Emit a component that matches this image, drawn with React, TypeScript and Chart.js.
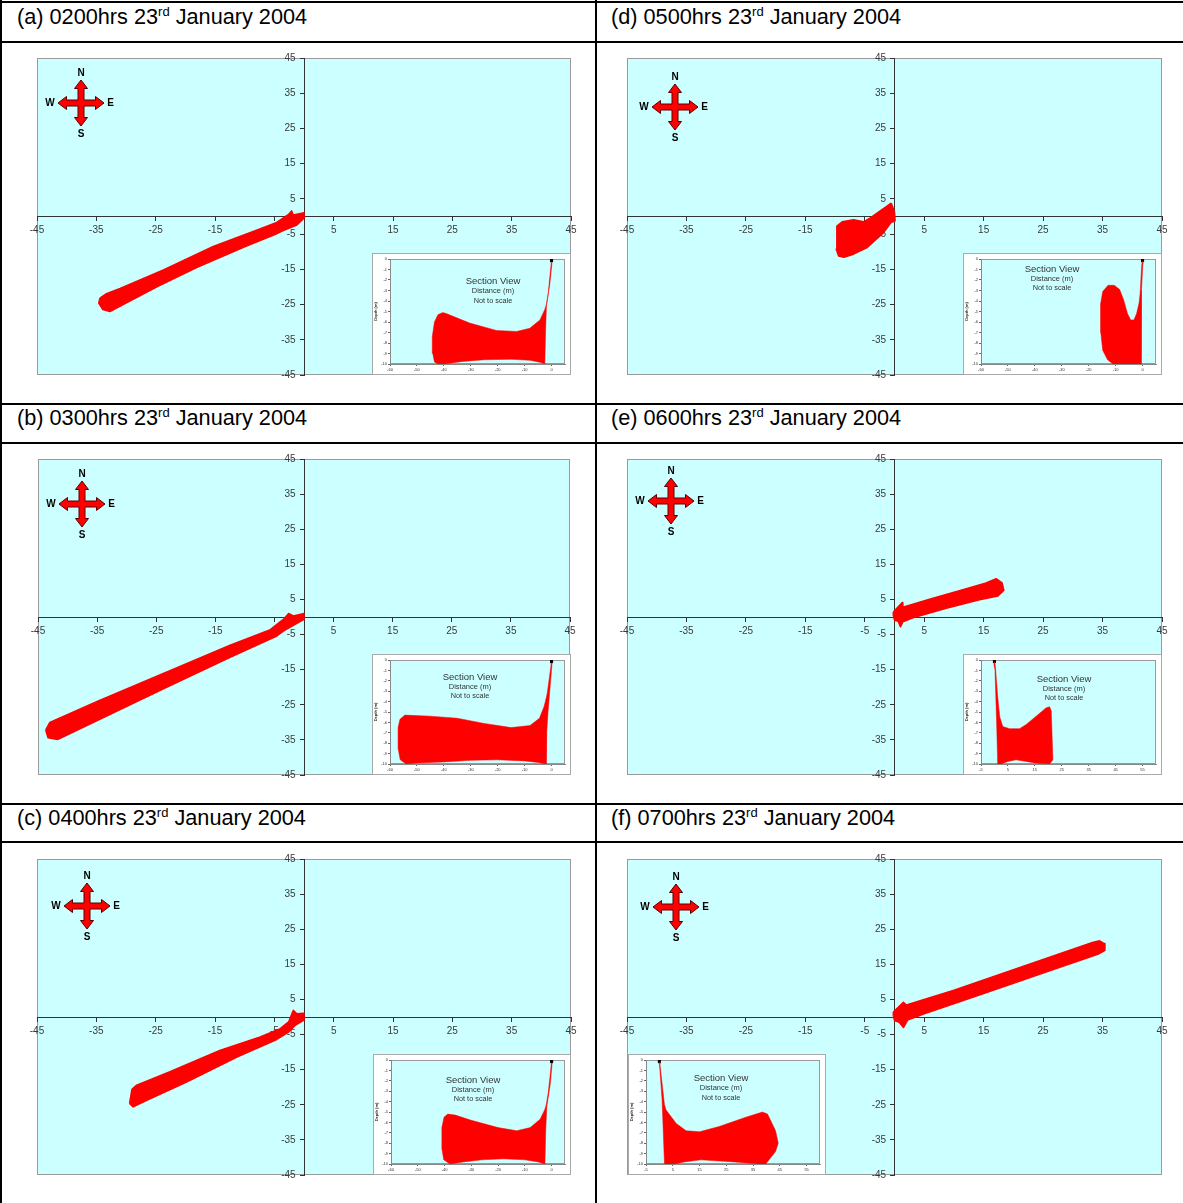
import React, { useEffect, useRef } from 'react';
import { Chart, registerables } from 'chart.js';

Chart.register(...registerables);

type Pt = [number, number];

// ---------------- data ----------------
const PANEL_LETTERS = ['a', 'b', 'c', 'd', 'e', 'f'];
const PANEL_TIMES = ['0200', '0300', '0400', '0500', '0600', '0700'];
const DATE_DAY = '23';
const DATE_SUFFIX = 'rd';
const DATE_REST = 'January 2004';

const PLAN_TICKS = [-45, -35, -25, -15, -5, 5, 15, 25, 35, 45];
const DEPTH_TICKS = [0, -1, -2, -3, -4, -5, -6, -7, -8, -9, -10];
const SECTION_TICKS_WEST = [-60, -50, -40, -30, -20, -10, 0];
const SECTION_TICKS_EAST = [-5, 5, 15, 25, 35, 45, 55];
const SECTION_RANGE_WEST: Pt = [-60, 5];
const SECTION_RANGE_EAST: Pt = [-5, 60];
const SOURCE_POINT: Pt = [0, -0.15];

// plan view plume outlines (easting m, northing m)
const PLAN_A: Pt[] = [[-34.4,-23.2],[-33.4,-22.0],[-31.0,-20.4],[-23.7,-15.2],[-15.3,-8.5],[-8.0,-3.9],[-4.6,-1.7],[-2.6,0.6],[-2.1,1.6],[-1.8,0.4],[0,1.1],[0,-0.5],[-1.2,-2.4],[-3.5,-4.0],[-4.9,-5.1],[-9.7,-8.4],[-18.1,-14.5],[-24.8,-20.0],[-31.6,-26.0],[-32.7,-27.0],[-33.9,-26.4],[-34.6,-24.6],[-34.4,-23.2]];
const PLAN_B: Pt[] = [[-43.7,-32.2],[-43.0,-30.0],[-34.9,-24.0],[-23.7,-16.0],[-12.5,-8.0],[-5.7,-3.6],[-3.5,-0.7],[-2.6,1.0],[-1.8,0.3],[0,1.0],[0,-0.7],[-1.8,-2.4],[-3.5,-4.0],[-4.6,-5.4],[-12.5,-11.5],[-23.7,-20.4],[-34.9,-29.4],[-41.7,-34.9],[-43.3,-34.4],[-43.7,-32.2]];
const PLAN_C: Pt[] = [[-29.4,-24.6],[-29.0,-20.6],[-28.2,-19.4],[-22.6,-15.6],[-14.2,-9.5],[-7.4,-5.7],[-4.0,-3.3],[-2.6,-1.4],[-1.8,1.9],[-1.2,0.9],[0,1.1],[0,-0.9],[-1.5,-2.4],[-2.6,-4.3],[-4.6,-6.4],[-11.3,-11.4],[-19.8,-18.5],[-26.5,-23.7],[-28.8,-25.6],[-29.4,-24.6]];
const PLAN_D: Pt[] = [[-0.56,3.8],[0,1.3],[0.1,-1.2],[-0.6,-1.7],[-1.8,-4.5],[-4.6,-8.8],[-6.9,-10.7],[-8.5,-11.6],[-9.4,-11.2],[-9.8,-9.3],[-9.7,-2.7],[-8.8,-1.5],[-6.9,-0.9],[-5.2,-1.5],[-4.0,-0.3],[-2.4,1.6],[-1.2,3.0],[-0.56,3.8]];
const PLAN_E: Pt[] = [[-0.2,1.4],[1.3,4.1],[1.4,2.8],[5.9,5.1],[11.5,7.8],[15.4,9.7],[17.1,10.9],[18.1,9.7],[18.4,7.6],[17.4,6.0],[14.3,4.9],[8.7,2.5],[3.1,-0.2],[1.4,-1.4],[1.0,-2.8],[0.6,-1.2],[0,-0.9],[-0.2,0.5],[-0.2,1.4]];
const PLAN_F: Pt[] = [[-0.2,1.4],[1.5,4.2],[2.0,3.4],[10,7.6],[20,13.5],[30,19.3],[33.3,21.2],[34.5,21.7],[35.3,20.9],[35.4,19.0],[34.3,17.9],[25,12.5],[15,6.7],[5,0.9],[2.2,-0.9],[1.5,-3.0],[0.8,-1.5],[0,-1.0],[-0.2,0.5],[-0.2,1.4]];

// section view plume outlines (distance m, depth m)
const SECTION_A: Pt[] = [[0.2,-0.3],[-0.6,-2.3],[-1.9,-4.5],[-2.2,-6.8],[-2.5,-10],[-4,-9.85],[-8,-9.65],[-15,-9.55],[-25,-9.6],[-33,-9.75],[-40,-10],[-42.2,-10],[-43.5,-9.8],[-44.1,-9.0],[-44.3,-7.4],[-43.5,-6.0],[-42.2,-5.3],[-40.4,-5.1],[-39.1,-5.2],[-30.4,-6.1],[-20.5,-6.8],[-13,-6.9],[-8.1,-6.6],[-4.3,-5.8],[-2.5,-4.8],[-1.9,-4.3],[-1.2,-3.2],[-0.6,-1.6],[-0.1,-0.3],[0.2,-0.3]];
const SECTION_B: Pt[] = [[0.2,-0.3],[-0.5,-2.5],[-1.3,-5],[-1.8,-7],[-2,-10],[-5,-9.85],[-10,-9.7],[-20,-9.6],[-30,-9.65],[-40,-9.8],[-50,-9.9],[-54,-10],[-56.2,-9.6],[-57,-8.5],[-57,-6.5],[-56.3,-5.7],[-54.5,-5.3],[-45,-5.4],[-35,-5.6],[-25,-6.1],[-15,-6.5],[-8,-6.3],[-4.5,-5.6],[-2.8,-4.5],[-2.3,-4.0],[-1.6,-3.2],[-0.7,-1.5],[-0.1,-0.3],[0.2,-0.3]];
const SECTION_C: Pt[] = [[0.2,-0.3],[-0.5,-2.3],[-1.8,-4.5],[-2.2,-6.8],[-2.5,-10],[-5,-9.8],[-10,-9.6],[-18,-9.5],[-26,-9.6],[-33,-9.8],[-38,-10],[-40.3,-9.6],[-41,-8.5],[-41,-6.5],[-40.2,-5.5],[-38.8,-5.2],[-36,-5.3],[-30,-5.8],[-20,-6.5],[-13,-6.8],[-8,-6.5],[-4.3,-5.7],[-2.6,-4.8],[-2,-4.3],[-1.3,-3.2],[-0.6,-1.6],[-0.1,-0.3],[0.2,-0.3]];
const SECTION_D: Pt[] = [[0,-0.2],[0.1,-0.5],[-0.4,-3.0],[-0.5,-10],[-5,-10],[-11,-10],[-13,-9.6],[-14.8,-8.7],[-15.5,-7],[-15.6,-4.3],[-14.8,-3.1],[-12.8,-2.5],[-10.5,-2.5],[-8.5,-2.9],[-7,-3.9],[-5.6,-5.2],[-4.4,-5.8],[-3.2,-5.8],[-2.2,-5.2],[-1.3,-4.2],[-0.9,-3.3],[-0.3,-0.5],[0,-0.2]];
const SECTION_E: Pt[] = [[0,-0.2],[0.3,-0.5],[1.2,-3.5],[1.6,-4.6],[2,-5.5],[3.1,-6.4],[5.6,-6.6],[9.3,-6.6],[11.8,-6.2],[15.5,-5.4],[19.2,-4.6],[20.5,-4.5],[21.1,-4.9],[21.7,-9.6],[20.5,-10],[15,-9.9],[11.8,-9.75],[8,-9.6],[5,-9.75],[2.5,-10],[1.2,-10],[0.8,-6],[0.2,-1],[-0.2,-0.4],[0,-0.2]];
const SECTION_F: Pt[] = [[0,-0.2],[0.2,-0.4],[1.9,-4.3],[2.5,-4.8],[6.3,-6.1],[10,-6.8],[15,-6.9],[22.3,-6.4],[32.3,-5.5],[38.5,-5.0],[40.4,-5.2],[43.4,-6.8],[44.4,-8.0],[43.4,-8.8],[39.7,-10],[37.2,-10],[27.9,-9.8],[15.5,-9.6],[9.3,-9.8],[5.6,-10],[1.9,-10],[1,-3.8],[0,-0.3],[0,-0.2]];

const PLANS = [PLAN_A, PLAN_B, PLAN_C, PLAN_D, PLAN_E, PLAN_F];
const SECTIONS = [SECTION_A, SECTION_B, SECTION_C, SECTION_D, SECTION_E, SECTION_F];
const SECTION_SIDE = ['west', 'west', 'west', 'west', 'east', 'east'];

const SECTION_TITLE = 'Section View';
const SECTION_SUB1 = 'Distance (m)';
const SECTION_SUB2 = 'Not to scale';
const DEPTH_LABEL = 'Depth (m)';

// ---------------- layout / style ----------------
const FONT = "'Liberation Sans', Arial, Helvetica, sans-serif";
const PLOT_BG = '#ccffff';
const PLOT_BORDER = '#9a9a9a';
const PLUME_RED = '#ff0000';

type Layout = {
  cell: [number, number, number, number];
  pad: { left: number; right: number; top: number; bottom: number };
  inset: [number, number, number, number];
  compass: [number, number];
  text: [number, number, number, number];
  title: [number, number];
};

const LAYOUTS: Layout[] = [
  { cell: [0, 42, 596, 362], pad: { left: 37, right: 25, top: 16, bottom: 29 }, inset: [372, 253, 199, 122], compass: [44, 45], text: [121, 28, 38, 48], title: [17, 17] },
  { cell: [0, 443, 596, 361], pad: { left: 38, right: 26, top: 16, bottom: 29 }, inset: [372, 654, 199, 121], compass: [44, 45], text: [98, 23, 33, 42], title: [17, 418] },
  { cell: [0, 842, 596, 361], pad: { left: 37, right: 25, top: 17, bottom: 28 }, inset: [373, 1054, 198, 121], compass: [50, 47], text: [100, 26, 36, 45], title: [17, 818] },
  { cell: [596, 42, 587, 362], pad: { left: 31, right: 21, top: 16, bottom: 29 }, inset: [963, 253, 199, 122], compass: [48, 49], text: [89, 16, 26, 35], title: [611, 17] },
  { cell: [596, 443, 587, 361], pad: { left: 31, right: 21, top: 16, bottom: 29 }, inset: [963, 654, 199, 121], compass: [44, 42], text: [101, 25, 35, 44], title: [611, 418] },
  { cell: [596, 842, 587, 361], pad: { left: 31, right: 21, top: 17, bottom: 28 }, inset: [628, 1054, 198, 121], compass: [49, 48], text: [93, 24, 34, 44], title: [611, 818] },
];

const H_LINES = [1, 41, 403, 442, 803, 841];
const V_LINES = [0, 595];

function plotAreaPlugin(id: string) {
  return {
    id,
    beforeDraw(chart: any) {
      const { ctx, chartArea: a } = chart;
      ctx.save();
      ctx.fillStyle = PLOT_BG;
      ctx.fillRect(a.left, a.top, a.right - a.left, a.bottom - a.top);
      ctx.strokeStyle = PLOT_BORDER;
      ctx.lineWidth = 1;
      ctx.strokeRect(Math.round(a.left) + 0.5, Math.round(a.top) + 0.5, Math.round(a.right - a.left) - 1, Math.round(a.bottom - a.top) - 1);
      ctx.restore();
    },
  };
}

function drawCompass(ctx: CanvasRenderingContext2D, cx: number, cy: number) {
  const L = 23, hw = 3, ah = 6.5, al = 8.5;
  let arm: Pt[] = [[-hw, -(L - al)], [-ah, -(L - al)], [0, -L], [ah, -(L - al)], [hw, -(L - al)], [hw, -hw]];
  ctx.save();
  ctx.beginPath();
  ctx.moveTo(cx - hw, cy - hw);
  for (let k = 0; k < 4; k++) {
    for (const [x, y] of arm) ctx.lineTo(cx + x, cy + y);
    arm = arm.map(([x, y]) => [-y, x] as Pt);
  }
  ctx.closePath();
  ctx.fillStyle = '#ff0000';
  ctx.fill();
  ctx.strokeStyle = '#5a0000';
  ctx.lineWidth = 1;
  ctx.stroke();
  ctx.fillStyle = '#000';
  ctx.font = `bold 10px ${FONT}`;
  ctx.textAlign = 'center';
  ctx.textBaseline = 'middle';
  ctx.fillText('N', cx, cy - 29.5);
  ctx.fillText('S', cx, cy + 31.5);
  ctx.fillText('W', cx - 31, cy);
  ctx.fillText('E', cx + 29.5, cy);
  ctx.restore();
}

const toXY = (pts: Pt[]) => pts.map(([x, y]) => ({ x, y }));

function PlanChart({ idx }: { idx: number }) {
  const ref = useRef<HTMLCanvasElement>(null);
  const lay = LAYOUTS[idx];
  useEffect(() => {
    if (!ref.current) return;
    const tickFont = { family: FONT, size: 10 };
    const chart = new Chart(ref.current, {
      type: 'line',
      data: {
        datasets: [
          {
            data: toXY(PLANS[idx]),
            fill: 'shape',
            backgroundColor: PLUME_RED,
            borderColor: PLUME_RED,
            borderWidth: 1.5,
            borderJoinStyle: 'round',
            pointRadius: 0,
            tension: 0,
          } as any,
        ],
      },
      options: {
        animation: false,
        responsive: false,
        maintainAspectRatio: false,
        events: [],
        layout: { padding: lay.pad },
        plugins: { legend: { display: false }, tooltip: { enabled: false } },
        scales: {
          x: {
            type: 'linear',
            min: -45,
            max: 45,
            position: { y: 0 } as any,
            afterBuildTicks: (s: any) => { s.ticks = PLAN_TICKS.map((v) => ({ value: v })); },
            grid: { display: true, drawOnChartArea: false, drawTicks: true, tickLength: 4, color: '#333' },
            border: { display: true, color: '#333', width: 1 },
            ticks: { autoSkip: false, maxRotation: 0, padding: 4, font: tickFont, color: '#3a3a3a', callback: (v: any) => String(v) },
          },
          y: {
            type: 'linear',
            min: -45,
            max: 45,
            position: { x: 0 } as any,
            afterBuildTicks: (s: any) => { s.ticks = PLAN_TICKS.map((v) => ({ value: v })); },
            grid: { display: true, drawOnChartArea: false, drawTicks: true, tickLength: 4, color: '#333' },
            border: { display: true, color: '#333', width: 1 },
            ticks: { autoSkip: false, padding: 4, font: tickFont, color: '#3a3a3a', callback: (v: any) => String(v) + '   ' },
          },
        },
      } as any,
      plugins: [
        plotAreaPlugin('planArea'),
        {
          id: 'compass',
          afterDraw(c: any) {
            const a = c.chartArea;
            drawCompass(c.ctx, a.left + lay.compass[0], a.top + lay.compass[1]);
          },
        },
      ],
    });
    return () => chart.destroy();
  }, [idx]);
  return (
    <canvas
      ref={ref}
      width={lay.cell[2]}
      height={lay.cell[3]}
      style={{ position: 'absolute', left: lay.cell[0], top: lay.cell[1], width: lay.cell[2], height: lay.cell[3] }}
    />
  );
}

function SectionChart({ idx }: { idx: number }) {
  const ref = useRef<HTMLCanvasElement>(null);
  const lay = LAYOUTS[idx];
  const [bx, by, bw, bh] = lay.inset;
  const west = SECTION_SIDE[idx] === 'west';
  useEffect(() => {
    if (!ref.current) return;
    const range = west ? SECTION_RANGE_WEST : SECTION_RANGE_EAST;
    const xt = west ? SECTION_TICKS_WEST : SECTION_TICKS_EAST;
    const tiny = { family: FONT, size: 4 };
    const chart = new Chart(ref.current, {
      type: 'line',
      data: {
        datasets: [
          {
            data: toXY(SECTIONS[idx]),
            fill: 'shape',
            backgroundColor: PLUME_RED,
            borderColor: PLUME_RED,
            borderWidth: 0.5,
            pointRadius: 0,
            tension: 0,
          } as any,
          {
            data: toXY([SOURCE_POINT]),
            showLine: false,
            pointStyle: 'rect',
            pointRadius: 2.2,
            backgroundColor: '#000',
            borderColor: '#000',
            borderWidth: 0,
          } as any,
        ],
      },
      options: {
        animation: false,
        responsive: false,
        maintainAspectRatio: false,
        events: [],
        layout: { padding: { top: 5, right: 5, left: 0, bottom: 0 } },
        plugins: { legend: { display: false }, tooltip: { enabled: false } },
        scales: {
          x: {
            type: 'linear',
            min: range[0],
            max: range[1],
            position: 'bottom',
            afterBuildTicks: (s: any) => { s.ticks = xt.map((v) => ({ value: v })); },
            afterFit: (s: any) => { s.height = 10; },
            grid: { display: true, drawOnChartArea: false, tickLength: 2, color: '#666' },
            border: { display: true, color: '#888', width: 1 },
            ticks: { autoSkip: false, maxRotation: 0, padding: 1, font: tiny, color: '#333' },
          },
          y: {
            type: 'linear',
            min: -10,
            max: 0,
            position: 'left',
            afterBuildTicks: (s: any) => { s.ticks = DEPTH_TICKS.map((v) => ({ value: v })); },
            afterFit: (s: any) => { s.width = 17; },
            grid: { display: true, drawOnChartArea: false, tickLength: 2, color: '#666' },
            border: { display: true, color: '#888', width: 1 },
            title: { display: true, text: DEPTH_LABEL, font: { family: FONT, size: 4, weight: 'bold' }, color: '#222', padding: 0 },
            ticks: { autoSkip: false, padding: 1, font: tiny, color: '#333' },
          },
        },
      } as any,
      plugins: [
        plotAreaPlugin('sectionArea'),
        {
          id: 'sectionText',
          afterDraw(c: any) {
            const ctx = c.ctx as CanvasRenderingContext2D;
            const [tx, y1, y2, y3] = lay.text;
            ctx.save();
            ctx.fillStyle = '#333';
            ctx.textAlign = 'center';
            ctx.textBaseline = 'middle';
            ctx.font = `9.5px ${FONT}`;
            ctx.fillText(SECTION_TITLE, tx - 1, y1 - 1);
            ctx.font = `7.5px ${FONT}`;
            ctx.fillText(SECTION_SUB1, tx - 1, y2 - 1);
            ctx.font = `7.3px ${FONT}`;
            ctx.fillText(SECTION_SUB2, tx - 1, y3 - 1);
            ctx.restore();
          },
        },
      ],
    });
    return () => chart.destroy();
  }, [idx]);
  return (
    <div
      style={{
        position: 'absolute',
        left: bx,
        top: by,
        width: bw,
        height: bh,
        boxSizing: 'border-box',
        border: '1px solid #aaaaaa',
        background: '#fff',
      }}
    >
      <canvas ref={ref} width={bw - 2} height={bh - 2} style={{ display: 'block', width: bw - 2, height: bh - 2 }} />
    </div>
  );
}

function Title({ idx }: { idx: number }) {
  const lay = LAYOUTS[idx];
  return (
    <div
      style={{
        position: 'absolute',
        left: lay.title[0],
        top: lay.title[1] - 12,
        height: 24,
        lineHeight: '24px',
        fontFamily: FONT,
        fontSize: 21.7,
        color: '#000',
        whiteSpace: 'nowrap',
      }}
    >
      ({PANEL_LETTERS[idx]}) {PANEL_TIMES[idx]}hrs {DATE_DAY}
      <sup style={{ fontSize: '0.6em', lineHeight: 0, verticalAlign: '0.65em' }}>{DATE_SUFFIX}</sup> {DATE_REST}
    </div>
  );
}

export default function App() {
  return (
    <div style={{ position: 'absolute', left: 0, top: 0, width: 1183, height: 1203, background: '#fff', overflow: 'hidden' }}>
      {PANEL_LETTERS.map((_, i) => (
        <PlanChart key={'p' + i} idx={i} />
      ))}
      {PANEL_LETTERS.map((_, i) => (
        <SectionChart key={'s' + i} idx={i} />
      ))}
      {PANEL_LETTERS.map((_, i) => (
        <Title key={'t' + i} idx={i} />
      ))}
      {H_LINES.map((y) => (
        <div key={'h' + y} style={{ position: 'absolute', left: 0, top: y, width: 1183, height: 2, background: '#000' }} />
      ))}
      {V_LINES.map((x) => (
        <div key={'v' + x} style={{ position: 'absolute', left: x, top: 0, width: 2, height: 1203, background: '#000' }} />
      ))}
    </div>
  );
}
